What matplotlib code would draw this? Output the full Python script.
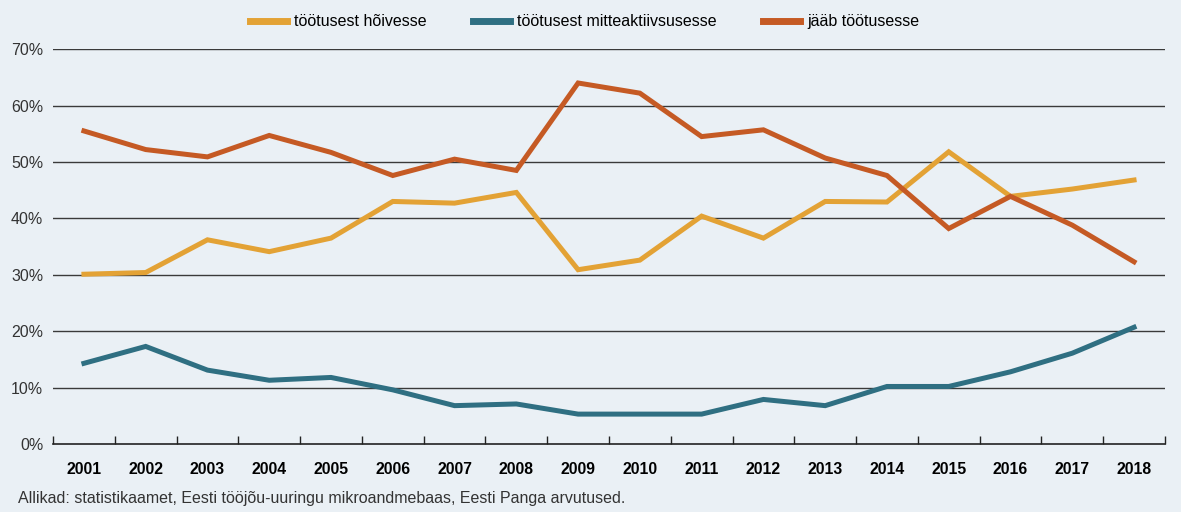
import numpy as np
import matplotlib
matplotlib.use("Agg")
import matplotlib.pyplot as plt
from matplotlib.ticker import FixedLocator, FuncFormatter

plt.rcParams['font.family'] = ['Liberation Sans', 'DejaVu Sans']

# data (share of unemployed, %)
years = [str(y) for y in range(2001, 2019)]
to_employment = [30.1, 30.4, 36.2, 34.1, 36.5, 43.0, 42.7, 44.6, 30.9, 32.6,
                 40.4, 36.5, 43.0, 42.9, 51.8, 43.9, 45.2, 46.8]
to_inactivity = [14.3, 17.3, 13.1, 11.3, 11.8, 9.6, 6.8, 7.1, 5.3, 5.3,
                 5.3, 7.9, 6.8, 10.2, 10.2, 12.8, 16.1, 20.7]
stays_unemployed = [55.5, 52.2, 50.9, 54.7, 51.7, 47.6, 50.5, 48.5, 64.0, 62.2,
                    54.5, 55.7, 50.7, 47.6, 38.2, 43.9, 38.8, 32.3]
series_labels = ['töötusest hõivesse', 'töötusest mitteaktiivsusesse', 'jääb töötusesse']
colors = ['#E3A235', '#2F6F82', '#C55A24']
yticks = [0, 10, 20, 30, 40, 50, 60, 70]

bg = '#EAF0F5'
fig = plt.figure(figsize=(11.81, 5.12), dpi=100, facecolor=bg)
ax = fig.add_axes([0.0449, 0.1328, 0.9415, 0.7712], facecolor=bg)

x = np.arange(len(years))
for vals, lab, col in zip([to_employment, to_inactivity, stays_unemployed], series_labels, colors):
    ax.plot(x, vals, color=col, lw=3.6, label=lab, solid_joinstyle='miter', zorder=3)

ax.set_xlim(-0.5, len(years) - 0.5)
ax.set_ylim(0, 70)

# horizontal grid lines
for v in yticks[1:]:
    ax.axhline(v, color='#3a3a3a', lw=1.0, zorder=1)

ax.yaxis.set_major_locator(FixedLocator(yticks))
ax.yaxis.set_major_formatter(FuncFormatter(lambda v, p: f'{v:.0f}%'))
ax.tick_params(axis='y', length=0, pad=7, labelsize=11.5, labelcolor='#333333')

# category axis: labels at centres, ticks at boundaries
ax.set_xticks(x)
ax.set_xticklabels(years, fontweight='bold', fontsize=11.3)
ax.tick_params(axis='x', which='major', length=0, pad=13)
ax.set_xticks(np.arange(-0.5, len(years)), minor=True)
ax.tick_params(axis='x', which='minor', direction='in', length=6, width=1, color='#222222')

for s in ['top', 'right', 'left']:
    ax.spines[s].set_visible(False)
ax.spines['bottom'].set_color('#222222')
ax.spines['bottom'].set_linewidth(1.2)

leg = fig.legend(loc='upper center', bbox_to_anchor=(0.495, 1.0), ncol=3, frameon=False,
                 fontsize=11.5, handlelength=2.3, handletextpad=0.45, columnspacing=2.9)
for h in leg.get_lines():
    h.set_linewidth(5)

fig.text(0.0152, 0.012, 'Allikad: statistikaamet, Eesti tööjõu-uuringu mikroandmebaas, Eesti Panga arvutused.',
         fontsize=11.5, color='#333333', ha='left', va='bottom')

fig.savefig('out.png', dpi=100, facecolor=bg)
